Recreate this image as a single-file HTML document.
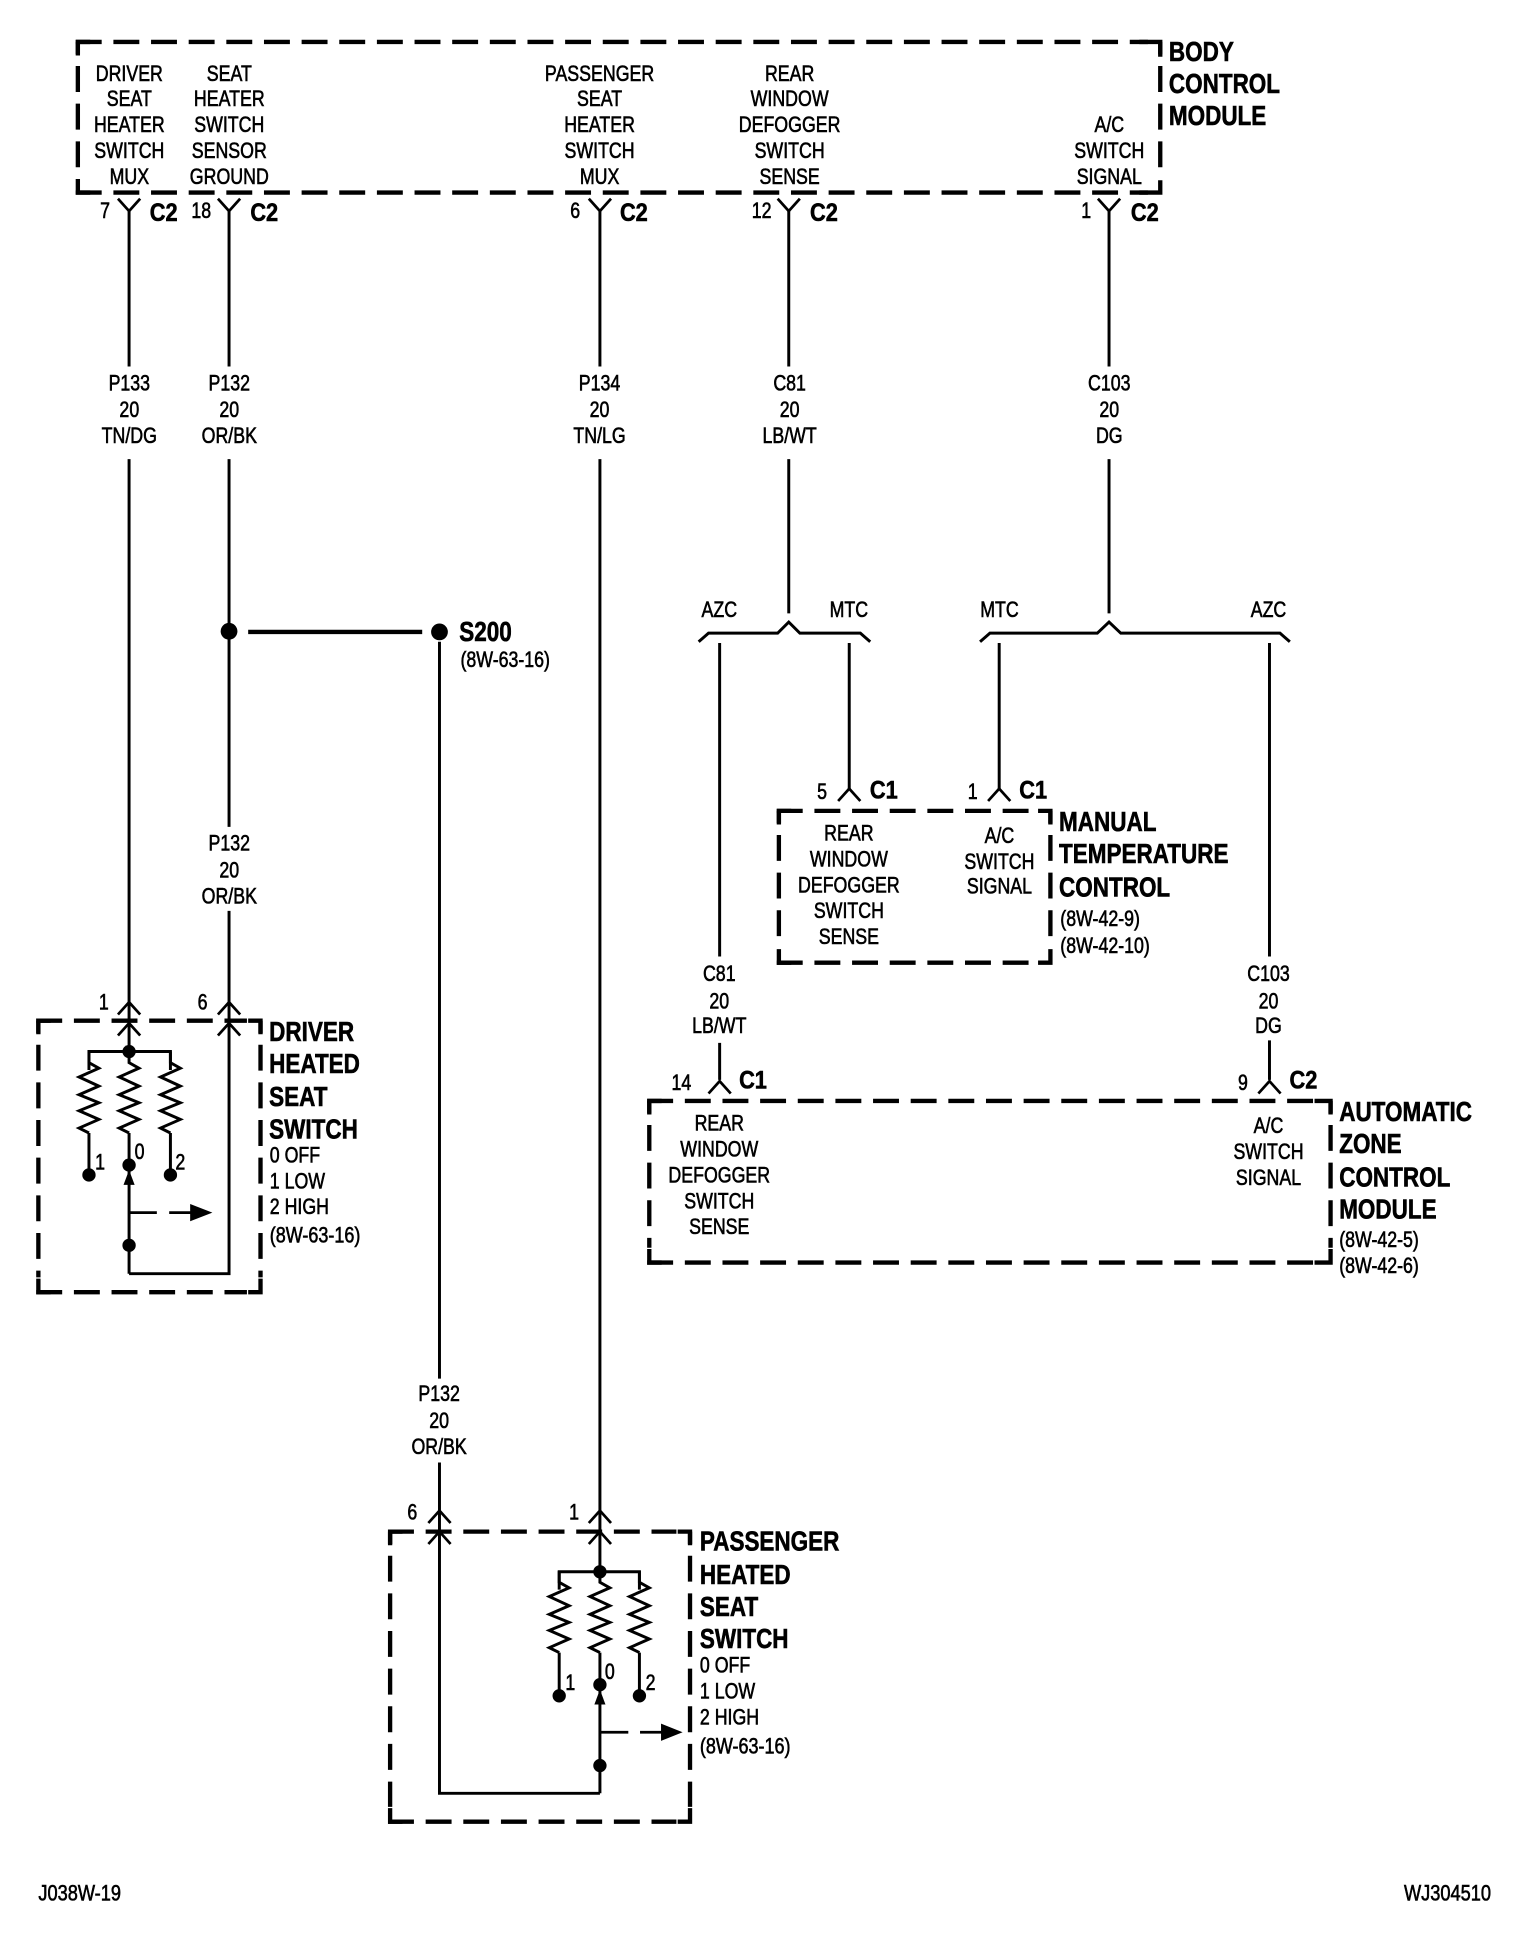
<!DOCTYPE html>
<html><head><meta charset="utf-8"><style>
html,body{margin:0;padding:0;background:#fff}
svg{display:block}
text{font-family:"Liberation Sans",sans-serif;font-size:18px;fill:#000;stroke:#000;stroke-width:.5}
.m{text-anchor:middle}
.b{font-weight:bold;font-size:22.5px;stroke-width:.5}
.c{font-weight:bold;font-size:20.5px;stroke-width:.5}
.w{fill:none;stroke:#000;stroke-width:2.4}
.d{fill:none;stroke:#000;stroke-width:3.5;stroke-dasharray:21 9.5}
.k{fill:none;stroke:#000;stroke-width:3.5}
.t{fill:none;stroke:#000;stroke-width:2.2}
</style></head><body>
<svg width="1520" height="1934" viewBox="0 0 1231.4 1567" xmlns="http://www.w3.org/2000/svg">
<defs>
<path id="dn" class="t" d="M-9 161L0 171L9 161"/>
<path id="up" class="t" d="M-9 10L0 0L9 10"/>
<path id="res" class="w" d="M0 0V9L8 13.5L-8 20.6L8 28L-8 35L8 41.500L-8 48L8 55L-8 62L0 66"/>
</defs>
<rect width="1232" height="1567" fill="#fff"/>

<!-- BCM -->
<path class="d" d="M61.300 34H930"/><path class="d" d="M61.300 156H930"/>
<path class="d" stroke-dashoffset="11" d="M63 34V144"/><path class="d" stroke-dashoffset="11" d="M940 34V144"/>
<path class="k" d="M923 34H940V46M923 156H940V146M63 145V156H73M63 45V34H73"/>
<!-- Driver box -->
<path class="d" d="M29.300 827H200"/><path class="d" d="M29.300 1047H200"/>
<path class="d" stroke-dashoffset="11" d="M31 827V1035"/><path class="d" stroke-dashoffset="11" d="M211 827V1035"/>
<path class="k" d="M201 827H211V838M201 1047H211V1036M31 1036V1047H41M31 838V827H41"/>
<!-- Passenger box -->
<path class="d" d="M314.300 1241H548"/><path class="d" d="M314.300 1476H548"/>
<path class="d" stroke-dashoffset="11" d="M316 1241V1464"/><path class="d" stroke-dashoffset="11" d="M559 1241V1464"/>
<path class="k" d="M549 1241H559V1252M549 1476H559V1465M316 1465V1476H326M316 1252V1241H326"/>
<!-- MTC box -->
<path class="d" d="M629.300 657H840"/><path class="d" d="M629.300 780H840"/>
<path class="d" stroke-dashoffset="11" d="M631 657V768"/><path class="d" stroke-dashoffset="11" d="M851 657V768"/>
<path class="k" d="M841 657H851V668M841 780H851V769M631 769V780H641M631 668V657H641"/>
<!-- AZC box -->
<path class="d" d="M524.300 892H1066"/><path class="d" d="M524.300 1023H1066"/>
<path class="d" stroke-dashoffset="11" d="M526 892V1011"/><path class="d" stroke-dashoffset="11" d="M1078 892V1011"/>
<path class="k" d="M1065 892H1078V903M1065 1023H1078V1012M526 1012V1023H536M526 903V892H536"/>

<!-- Wires -->
<path class="w" d="M104.500 171V297M104.500 372V852"/>
<path class="w" d="M185.500 171V297M185.500 372V670M185.500 738V1032H104.500"/>
<path class="w" d="M486 171V297M486 372V1273"/>
<path class="w" d="M639 171V297M639 372V497"/>
<path class="w" d="M898.500 171V297M898.500 372V497"/>
<path class="w" d="M356 520V1117M356 1185V1453H486"/>
<path class="w" d="M583 521V775M583 845V875"/>
<path class="w" d="M688 521V639"/>
<path class="w" d="M809.500 521V639"/>
<path class="w" d="M1028.500 521V775M1028.500 843V875"/>
<path d="M201 512H342" fill="none" stroke="#000" stroke-width="3.6"/>

<!-- Top connectors -->
<use href="#dn" x="104.500"/><use href="#dn" x="185.500"/><use href="#dn" x="486"/><use href="#dn" x="639"/><use href="#dn" x="898.500"/>
<!-- Driver connectors -->
<use href="#up" x="104.500" y="812"/><use href="#up" x="104.500" y="829"/>
<use href="#up" x="185.500" y="812"/><use href="#up" x="185.500" y="829"/>
<!-- Passenger connectors -->
<use href="#up" x="356" y="1224"/><use href="#up" x="356" y="1241"/>
<use href="#up" x="486" y="1224"/><use href="#up" x="486" y="1241"/>
<!-- MTC/AZC connectors -->
<use href="#up" x="688" y="639"/><use href="#up" x="809.500" y="639"/>
<use href="#up" x="583" y="876"/><use href="#up" x="1028.500" y="876"/>

<!-- Brackets -->
<path class="w" d="M566 520L574 513H630L639 504L648 513H697L705 520"/>
<path class="w" d="M794 520L802 513H889L898.500 504L908 513H1037L1045 520"/>

<!-- Splice -->
<circle cx="185.500" cy="511.500" r="6.800"/><circle cx="356" cy="512" r="6.800"/>

<!-- Driver switch internals -->
<path class="w" d="M72 867V852H138V867"/>
<use href="#res" x="72" y="852"/><use href="#res" x="104.500" y="852"/><use href="#res" x="138" y="852"/>
<path class="w" d="M72 918V952M104.500 918V1032M138 918V952"/>
<circle cx="104.500" cy="852" r="5.400"/>
<circle cx="72" cy="952" r="5.400"/><circle cx="104.500" cy="944" r="5.400"/><circle cx="138" cy="952" r="5.400"/>
<circle cx="104.500" cy="1009" r="5.400"/>
<path d="M104.500 948L100 960H109Z"/>
<path class="t" d="M104.500 982.500H127M137 982.500H155"/>
<path d="M154 975.500L172 982.500L154 989.500Z"/>

<!-- Passenger switch internals -->
<path class="w" d="M453 1288V1273.500H518V1288"/>
<use href="#res" x="453" y="1273"/><use href="#res" x="486" y="1273"/><use href="#res" x="518" y="1273"/>
<path class="w" d="M453 1339V1374M486 1339V1453M518 1339V1374"/>
<circle cx="486" cy="1273.500" r="5.400"/>
<circle cx="453" cy="1374" r="5.400"/><circle cx="486" cy="1365" r="5.400"/><circle cx="518" cy="1374" r="5.400"/>
<circle cx="486" cy="1430.500" r="5.400"/>
<path d="M486 1369L481.500 1381H490.500Z"/>
<path class="t" d="M486 1403.500H509M518.500 1403.500H537"/>
<path d="M535.500 1396.500L553 1403.500L535.500 1410.500Z"/>

<!-- Labels shifted up -->
<g class="m" transform="translate(-.3 -1)">
<text transform="translate(105 66.500) scale(.8 1)">DRIVER</text>
<text transform="translate(105 87) scale(.8 1)">SEAT</text>
<text transform="translate(105 108) scale(.8 1)">HEATER</text>
<text transform="translate(105 129) scale(.8 1)">SWITCH</text>
<text transform="translate(105 150) scale(.8 1)">MUX</text>
<text transform="translate(186 66.500) scale(.8 1)">SEAT</text>
<text transform="translate(186 87) scale(.8 1)">HEATER</text>
<text transform="translate(186 108) scale(.8 1)">SWITCH</text>
<text transform="translate(186 129) scale(.8 1)">SENSOR</text>
<text transform="translate(186 150) scale(.8 1)">GROUND</text>
<text transform="translate(486 66.500) scale(.8 1)">PASSENGER</text>
<text transform="translate(486 87) scale(.8 1)">SEAT</text>
<text transform="translate(486 108) scale(.8 1)">HEATER</text>
<text transform="translate(486 129) scale(.8 1)">SWITCH</text>
<text transform="translate(486 150) scale(.8 1)">MUX</text>
<text transform="translate(640 66.500) scale(.8 1)">REAR</text>
<text transform="translate(640 87) scale(.8 1)">WINDOW</text>
<text transform="translate(640 108) scale(.8 1)">DEFOGGER</text>
<text transform="translate(640 129) scale(.8 1)">SWITCH</text>
<text transform="translate(640 150) scale(.8 1)">SENSE</text>
<text transform="translate(899 108) scale(.8 1)">A/C</text>
<text transform="translate(899 129) scale(.8 1)">SWITCH</text>
<text transform="translate(899 150) scale(.8 1)">SIGNAL</text>

<text transform="translate(105 317.500) scale(.8 1)">P133</text>
<text transform="translate(105 339) scale(.8 1)">20</text>
<text transform="translate(105 360) scale(.8 1)">TN/DG</text>
<text transform="translate(186 317.500) scale(.8 1)">P132</text>
<text transform="translate(186 339) scale(.8 1)">20</text>
<text transform="translate(186 360) scale(.8 1)">OR/BK</text>
<text transform="translate(486 317.500) scale(.8 1)">P134</text>
<text transform="translate(486 339) scale(.8 1)">20</text>
<text transform="translate(486 360) scale(.8 1)">TN/LG</text>
<text transform="translate(640 317.500) scale(.8 1)">C81</text>
<text transform="translate(640 339) scale(.8 1)">20</text>
<text transform="translate(640 360) scale(.8 1)">LB/WT</text>
<text transform="translate(899 317.500) scale(.8 1)">C103</text>
<text transform="translate(899 339) scale(.8 1)">20</text>
<text transform="translate(899 360) scale(.8 1)">DG</text>
<text transform="translate(186 690) scale(.8 1)">P132</text>
<text transform="translate(186 712) scale(.8 1)">20</text>
<text transform="translate(186 733) scale(.8 1)">OR/BK</text>
<text transform="translate(356 1136) scale(.8 1)">P132</text>
<text transform="translate(356 1158) scale(.8 1)">20</text>
<text transform="translate(356 1179) scale(.8 1)">OR/BK</text>
<text transform="translate(583 796) scale(.8 1)">C81</text>
<text transform="translate(583 818) scale(.8 1)">20</text>
<text transform="translate(583 838) scale(.8 1)">LB/WT</text>
<text transform="translate(1028 796) scale(.8 1)">C103</text>
<text transform="translate(1028 818) scale(.8 1)">20</text>
<text transform="translate(1028 838) scale(.8 1)">DG</text>
<text transform="translate(583 501) scale(.8 1)">AZC</text>
<text transform="translate(688 501) scale(.8 1)">MTC</text>
<text transform="translate(810 501) scale(.8 1)">MTC</text>
<text transform="translate(1028 501) scale(.8 1)">AZC</text>

<text transform="translate(688 682) scale(.8 1)">REAR</text>
<text transform="translate(688 703) scale(.8 1)">WINDOW</text>
<text transform="translate(688 724) scale(.8 1)">DEFOGGER</text>
<text transform="translate(688 745) scale(.8 1)">SWITCH</text>
<text transform="translate(688 766) scale(.8 1)">SENSE</text>
<text transform="translate(810 684) scale(.8 1)">A/C</text>
<text transform="translate(810 705) scale(.8 1)">SWITCH</text>
<text transform="translate(810 725) scale(.8 1)">SIGNAL</text>
<text transform="translate(583 917) scale(.8 1)">REAR</text>
<text transform="translate(583 938) scale(.8 1)">WINDOW</text>
<text transform="translate(583 959) scale(.8 1)">DEFOGGER</text>
<text transform="translate(583 980) scale(.8 1)">SWITCH</text>
<text transform="translate(583 1001) scale(.8 1)">SENSE</text>
<text transform="translate(1028 919) scale(.8 1)">A/C</text>
<text transform="translate(1028 940) scale(.8 1)">SWITCH</text>
<text transform="translate(1028 961) scale(.8 1)">SIGNAL</text>
</g>

<!-- Pin numbers -->
<g class="m">
<text transform="translate(85 176.500) scale(.8 1)">7</text>
<text transform="translate(163 176.500) scale(.8 1)">18</text>
<text transform="translate(466 176.500) scale(.8 1)">6</text>
<text transform="translate(617 176.500) scale(.8 1)">12</text>
<text transform="translate(880 176.500) scale(.8 1)">1</text>
<text transform="translate(84 818) scale(.8 1)">1</text>
<text transform="translate(164 818) scale(.8 1)">6</text>
<text transform="translate(334 1231) scale(.8 1)">6</text>
<text transform="translate(465 1231) scale(.8 1)">1</text>
<text transform="translate(666 647.500) scale(.8 1)">5</text>
<text transform="translate(788 647.500) scale(.8 1)">1</text>
<text transform="translate(552 883) scale(.8 1)">14</text>
<text transform="translate(1007 883) scale(.8 1)">9</text>
<text transform="translate(81 947.500) scale(.8 1)">1</text>
<text transform="translate(113 939) scale(.8 1)">0</text>
<text transform="translate(146 947.500) scale(.8 1)">2</text>
<text transform="translate(462 1369.500) scale(.8 1)">1</text>
<text transform="translate(494 1360.500) scale(.8 1)">0</text>
<text transform="translate(527 1369.500) scale(.8 1)">2</text>

<text class="c" transform="translate(132.500 179) scale(.86 1)">C2</text>
<text class="c" transform="translate(214 179) scale(.86 1)">C2</text>
<text class="c" transform="translate(513.500 179) scale(.86 1)">C2</text>
<text class="c" transform="translate(667.500 179) scale(.86 1)">C2</text>
<text class="c" transform="translate(927.500 179) scale(.86 1)">C2</text>
<text class="c" transform="translate(716 647) scale(.86 1)">C1</text>
<text class="c" transform="translate(837 647) scale(.86 1)">C1</text>
<text class="c" transform="translate(610 882) scale(.86 1)">C1</text>
<text class="c" transform="translate(1056 882) scale(.86 1)">C2</text>
</g>

<!-- Titles -->
<g transform="translate(0 -.7)">
<text class="b" transform="translate(947 50) scale(.81 1)">BODY</text>
<text class="b" transform="translate(947 76) scale(.81 1)">CONTROL</text>
<text class="b" transform="translate(947 102) scale(.81 1)">MODULE</text>
<text class="b" transform="translate(372 520) scale(.81 1)">S200</text>
<text class="b" transform="translate(218 844) scale(.81 1)">DRIVER</text>
<text class="b" transform="translate(218 870) scale(.81 1)">HEATED</text>
<text class="b" transform="translate(218 897) scale(.81 1)">SEAT</text>
<text class="b" transform="translate(218 923) scale(.81 1)">SWITCH</text>
<text class="b" transform="translate(567 1257) scale(.81 1)">PASSENGER</text>
<text class="b" transform="translate(567 1284) scale(.81 1)">HEATED</text>
<text class="b" transform="translate(567 1310) scale(.81 1)">SEAT</text>
<text class="b" transform="translate(567 1336) scale(.81 1)">SWITCH</text>
<text class="b" transform="translate(858 674) scale(.81 1)">MANUAL</text>
<text class="b" transform="translate(858 700) scale(.81 1)">TEMPERATURE</text>
<text class="b" transform="translate(858 727) scale(.81 1)">CONTROL</text>
<text class="b" transform="translate(1085 909) scale(.81 1)">AUTOMATIC</text>
<text class="b" transform="translate(1085 935) scale(.81 1)">ZONE</text>
<text class="b" transform="translate(1085 962) scale(.81 1)">CONTROL</text>
<text class="b" transform="translate(1085 988) scale(.81 1)">MODULE</text>
</g>

<!-- Sub-labels -->
<g transform="translate(0 -1.2)">
<text transform="translate(373 541.500) scale(.8 1)">(8W-63-16)</text>
<text transform="translate(218.500 943) scale(.8 1)">0 OFF</text>
<text transform="translate(218.500 964) scale(.8 1)">1 LOW</text>
<text transform="translate(218.500 985) scale(.8 1)">2 HIGH</text>
<text transform="translate(218.500 1008) scale(.81 1)">(8W-63-16)</text>
<text transform="translate(567 1356.500) scale(.8 1)">0 OFF</text>
<text transform="translate(567 1377.500) scale(.8 1)">1 LOW</text>
<text transform="translate(567 1398.500) scale(.8 1)">2 HIGH</text>
<text transform="translate(567 1422) scale(.81 1)">(8W-63-16)</text>
<text transform="translate(859 751.500) scale(.8 1)">(8W-42-9)</text>
<text transform="translate(859 773.500) scale(.8 1)">(8W-42-10)</text>
<text transform="translate(1085 1011.500) scale(.8 1)">(8W-42-5)</text>
<text transform="translate(1085 1032.500) scale(.8 1)">(8W-42-6)</text>
</g>

<!-- Footer -->
<text transform="translate(31 1540) scale(.82 1)">J038W-19</text>
<text style="text-anchor:end" transform="translate(1208 1540) scale(.82 1)">WJ304510</text>
</svg>
</body></html>
